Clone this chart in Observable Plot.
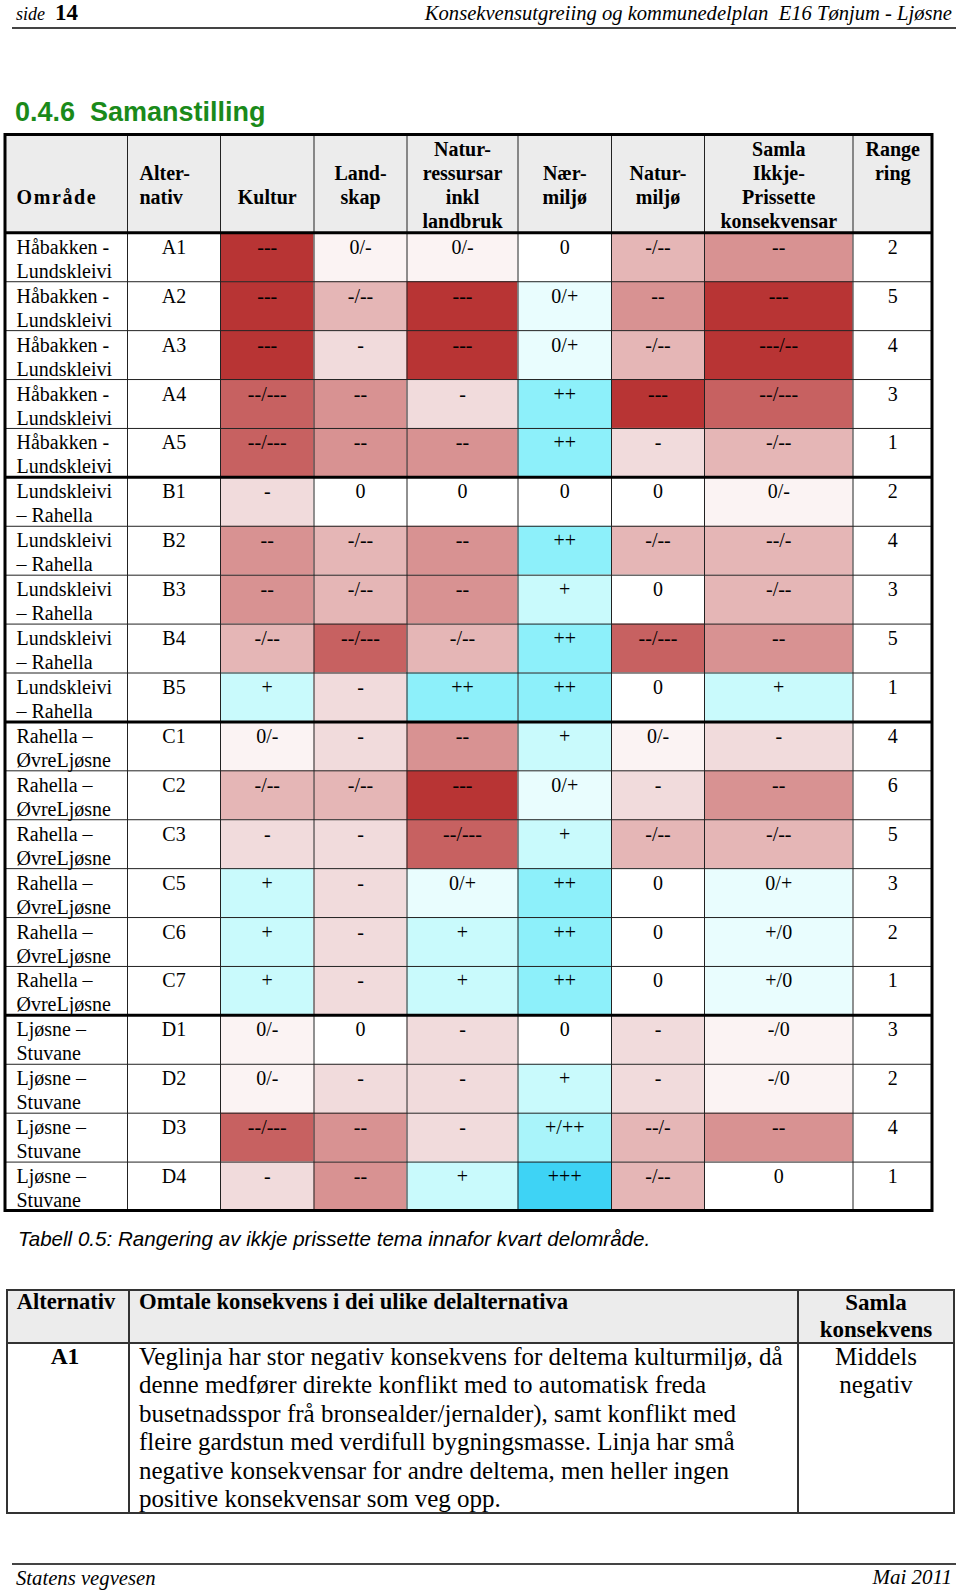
<!DOCTYPE html>
<html>
<head>
<meta charset="utf-8">
<script src="https://cdn.jsdelivr.net/npm/d3@7"></script>
<script src="https://cdn.jsdelivr.net/npm/@observablehq/plot@0.6"></script>
<style>
  html, body { margin: 0; padding: 0; background: #fff; }
  body { position: relative; width: 960px; height: 1591px; overflow: hidden; }
  .abs { position: absolute; white-space: nowrap; line-height: 1; color: #000; }
  .line { position: absolute; }
  #chart { position: absolute; left: 0; top: 125px; }
</style>
</head>
<body>
<div id="chart"></div>
<script>
// ---------------- DATA ----------------
const omrade = [
  "Håbakken -\nLundskleivi","Håbakken -\nLundskleivi","Håbakken -\nLundskleivi","Håbakken -\nLundskleivi","Håbakken -\nLundskleivi",
  "Lundskleivi\n– Rahella","Lundskleivi\n– Rahella","Lundskleivi\n– Rahella","Lundskleivi\n– Rahella","Lundskleivi\n– Rahella",
  "Rahella –\nØvreLjøsne","Rahella –\nØvreLjøsne","Rahella –\nØvreLjøsne","Rahella –\nØvreLjøsne","Rahella –\nØvreLjøsne","Rahella –\nØvreLjøsne",
  "Ljøsne –\nStuvane","Ljøsne –\nStuvane","Ljøsne –\nStuvane","Ljøsne –\nStuvane"
];
const alternativ = ["A1","A2","A3","A4","A5","B1","B2","B3","B4","B5","C1","C2","C3","C5","C6","C7","D1","D2","D3","D4"];
const kultur         = ["---","---","---","--/---","--/---","-","--","--","-/--","+","0/-","-/--","-","+","+","+","0/-","0/-","--/---","-"];
const landskap       = ["0/-","-/--","-","--","--","0","-/--","-/--","--/---","-","-","-/--","-","-","-","-","0","-","--","--"];
const naturressursar = ["0/-","---","---","-","--","0","--","--","-/--","++","--","---","--/---","0/+","+","+","-","-","-","+"];
const naermiljo      = ["0","0/+","0/+","++","++","0","++","+","++","++","+","0/+","+","++","++","++","0","+","+/++","+++"];
const naturmiljo     = ["-/--","--","-/--","---","-","0","-/--","0","--/---","0","0/-","-","-/--","0","0","0","-","-","--/-","-/--"];
const samla          = ["--","---","---/--","--/---","-/--","0/-","--/-","-/--","--","+","-","--","-/--","0/+","+/0","+/0","-/0","-/0","--","0"];
const rangering      = [2,5,4,3,1,2,4,3,5,1,4,6,5,3,2,1,3,2,4,1];
const headerLabels = ["Område","Alter-\nnativ","Kultur","Land-\nskap","Natur-\nressursar\ninkl\nlandbruk","Nær-\nmiljø","Natur-\nmiljø","Samla\nIkkje-\nPrissette\nkonsekvensar","Range\nring"];
const symbolOrder = ["---/--","---","--/---","--","--/-","-/--","-","0/-","-/0","0","0/+","+/0","+","+/++","++","+++"];
const groupStarts = [5,10,16];

const caption = "Tabell 0.5: Rangering av ikkje prissette tema innafor kvart delområde.";
const t2Header = ["Alternativ","Omtale konsekvens i dei ulike delalternativa",["Samla","konsekvens"]];
const t2Alt = "A1";
const t2Lines = [
  "Veglinja har stor negativ konsekvens for deltema kulturmiljø, då",
  "denne medfører direkte konflikt med to automatisk freda",
  "busetnadsspor frå bronsealder/jernalder), samt konflikt med",
  "fleire gardstun med verdifull bygningsmasse. Linja har små",
  "negative konsekvensar for andre deltema, men heller ingen",
  "positive konsekvensar som veg opp."
];
const t2Samla = ["Middels","negativ"];

// ---------------- STYLE / LAYOUT ----------------
const symbolColors = ["#b83434","#b83434","#c76161","#d89292","#e5b6b6","#e5b6b6","#f1dbdc","#fbf3f3","#fbf3f3","#ffffff","#e9fdfe","#e9fdfe","#c9fafc","#a9f4fa","#8df0fa","#3ed3f5"];
const serif = '"Liberation Serif","Times New Roman",serif';
const sans = '"Liberation Sans",Arial,sans-serif';
const SVG_TOP = 125, SVG_H = 1095;
const tableTop = 134.5, tableBottom = 1210.5;
const colEdges = [5,127,220,313.5,406.5,517.5,611,704,852.5,932];
const centers = colEdges.slice(0,-1).map((e,i)=>(e+colEdges[i+1])/2);
const headerLastSlot = [3,3,3,3,4,3,3,4,2];
const headerAnchor = ["start","start","middle","middle","middle","middle","middle","middle","middle"];
const headerX = [16,139,...centers.slice(2)];

const rows = alternativ.map((a,i)=>({i, omrade: omrade[i], alt: a, rang: String(rangering[i])}));
const themeCols = [kultur, landskap, naturressursar, naermiljo, naturmiljo, samla];
const cells = rows.flatMap(r => themeCols.map((arr,j)=>({i: r.i, c: j+2, value: arr[r.i]})));
const headers = headerLabels.map((t,j)=>({t, x: headerX[j], slot: headerLastSlot[j], anchor: headerAnchor[j]}));
const L = colEdges[0], R = colEdges[9];

const marks = [
  Plot.rect([{}], {x1: ()=>L, x2: ()=>R, y1: ()=>-2, y2: ()=>0, fill: "#ececec"}),
  Plot.rect(cells, {x1: d=>colEdges[d.c], x2: d=>colEdges[d.c+1], y1: d=>d.i, y2: d=>d.i+1, fill: d=>d.value}),
  Plot.ruleY(d3.range(1,20).filter(k=>!groupStarts.includes(k)), {y: d=>d, x1: ()=>L, x2: ()=>R, stroke: "#222", strokeWidth: 1}),
  Plot.ruleX(colEdges.slice(1,-1), {x: d=>d, y1: ()=>-2, y2: ()=>20, stroke: "#222", strokeWidth: 1}),
  Plot.ruleY([0, ...groupStarts], {y: d=>d, x1: ()=>L, x2: ()=>R, stroke: "#000", strokeWidth: 3}),
  Plot.rect([{}], {x1: ()=>L, x2: ()=>R, y1: ()=>-2, y2: ()=>20, fill: "none", stroke: "#000", strokeWidth: 3}),
];
for (const s of [2,3,4]) {
  for (const a of ["start","middle"]) {
    const hs = headers.filter(h=>h.slot===s && h.anchor===a);
    if (!hs.length) continue;
    marks.push(Plot.text(hs, {x: "x", y: ()=>-2, text: "t", textAnchor: a, lineAnchor: "bottom", lineHeight: 1.2,
      dy: 155 + (s-1)*24 - tableTop, fontWeight: "bold", fontSize: 20, fontFamily: serif}));
  }
}
marks.push(
  Plot.text(rows, {x: ()=>16, y: "i", text: "omrade", textAnchor: "start", lineAnchor: "bottom", lineHeight: 1.2, dy: 45, fontSize: 20, fontFamily: serif}),
  Plot.text(rows, {x: ()=>centers[1], y: "i", text: "alt", lineAnchor: "bottom", dy: 21, fontSize: 20, fontFamily: serif}),
  Plot.text(cells, {x: d=>centers[d.c], y: "i", text: "value", lineAnchor: "bottom", dy: 21, fontSize: 20, fontFamily: serif}),
  Plot.text(rows, {x: ()=>centers[8], y: "i", text: "rang", lineAnchor: "bottom", dy: 21, fontSize: 20, fontFamily: serif})
);

const chart = Plot.plot({
  width: 960, height: SVG_H,
  marginTop: 0, marginRight: 0, marginBottom: 0, marginLeft: 0,
  x: {type: "linear", domain: [0, 960], range: [0, 960], axis: null},
  y: {type: "linear", domain: [-2, 20], range: [tableTop - SVG_TOP, tableBottom - SVG_TOP], axis: null},
  color: {type: "ordinal", domain: symbolOrder, range: symbolColors},
  style: {background: "transparent", fontFamily: serif, fontSize: "20px", color: "#000", overflow: "visible"},
  marks
});
document.getElementById("chart").appendChild(chart);
// the reference sets the "Område" heading a little wider
chart.querySelectorAll("text").forEach(t => { if (t.textContent === "Område") t.style.letterSpacing = "1.6px"; });

// ---------------- HTML TEXT ----------------
function place(text, o) {
  const d = document.createElement("div");
  d.className = "abs";
  d.textContent = text;
  const F = o.size;
  const k = o.sans ? 0.8465 : 0.8375;
  d.style.top = (o.baseline - k*F) + "px";
  d.style.fontSize = F + "px";
  d.style.fontFamily = o.sans ? sans : serif;
  if (o.bold) d.style.fontWeight = "bold";
  if (o.italic) d.style.fontStyle = "italic";
  if (o.color) d.style.color = o.color;
  if (o.anchor === "end") d.style.right = (960 - o.x) + "px";
  else if (o.anchor === "middle") { d.style.left = o.x + "px"; d.style.transform = "translateX(-50%)"; }
  else d.style.left = o.x + "px";
  document.body.appendChild(d);
}
function box(x, y, w, h, bg) {
  const d = document.createElement("div");
  d.className = "line";
  Object.assign(d.style, {left: x+"px", top: y+"px", width: w+"px", height: h+"px", background: bg});
  document.body.appendChild(d);
}

// page header
place("side", {x: 16, baseline: 20, size: 18, italic: true});
place("14", {x: 55, baseline: 20, size: 23, bold: true});
place("Konsekvensutgreiing og kommunedelplan\u00a0 E16 Tønjum - Ljøsne", {x: 952, baseline: 20, size: 20.6, italic: true, anchor: "end"});
box(12, 27, 944, 2, "#444");
// title
place("0.4.6\u00a0 Samanstilling", {x: 15, baseline: 122, size: 27, bold: true, sans: true, color: "#1a8a1a"});
// caption
place(caption, {x: 18, baseline: 1246, size: 20.6, italic: true, sans: true});

// second table
const T2 = {l: 6, r: 955, t: 1289, hb: 1342, b: 1514, c1: 128, c2: 797};
box(T2.l, T2.t, T2.r - T2.l, T2.hb - T2.t, "#ececec");
box(T2.l, T2.t, T2.r - T2.l, 2, "#333");
box(T2.l, T2.hb, T2.r - T2.l, 2, "#333");
box(T2.l, T2.b - 2, T2.r - T2.l, 2, "#333");
box(T2.l, T2.t, 2, T2.b - T2.t, "#333");
box(T2.r - 2, T2.t, 2, T2.b - T2.t, "#333");
box(T2.c1, T2.t, 1.5, T2.b - T2.t, "#333");
box(T2.c2, T2.t, 1.5, T2.b - T2.t, "#333");
place(t2Header[0], {x: 66, baseline: 1310, size: 22.5, bold: true, anchor: "middle"});
place(t2Header[1], {x: 139, baseline: 1310, size: 22.7, bold: true});
place(t2Header[2][0], {x: 876, baseline: 1310, size: 23, bold: true, anchor: "middle"});
place(t2Header[2][1], {x: 876, baseline: 1337, size: 23, bold: true, anchor: "middle"});
place(t2Alt, {x: 65, baseline: 1365, size: 23.5, bold: true, anchor: "middle"});
t2Lines.forEach((s, k) => place(s, {x: 139, baseline: 1365 + k*28.4, size: 25}));
t2Samla.forEach((s, k) => place(s, {x: 876, baseline: 1365 + k*28.4, size: 25, anchor: "middle"}));

// footer
box(12, 1563, 944, 2, "#444");
place("Statens vegvesen", {x: 16, baseline: 1585, size: 20.7, italic: true});
place("Mai 2011", {x: 952, baseline: 1585, size: 21, italic: true, anchor: "end"});
</script>
</body>
</html>
